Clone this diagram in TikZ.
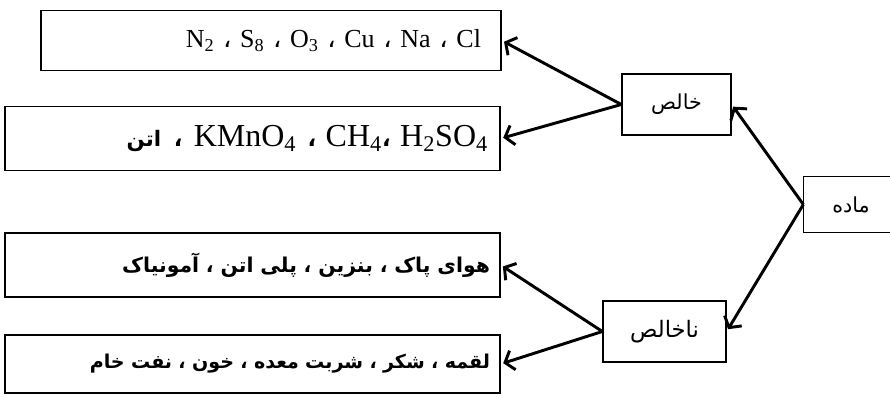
\documentclass[tikz,border=0pt]{standalone}
\usepackage{fontspec}
\setmainfont{Liberation Serif}
\newfontfamily\arabicfont[Script=Arabic]{DejaVu Sans}
\TeXXeTstate=1
\usetikzlibrary{arrows.meta}
\newcommand\acm{{\arabicfont ،}}
\newcommand\bacm{{\arabicfont\bfseries\fontsize{17}{18}\selectfont ،}}
\tikzset{
  tbox/.style={draw, line width=1pt, inner ysep=0pt, align=right},
  lbox/.style={draw, line width=1pt, inner sep=0pt, font=\arabicfont\fontsize{15.5}{18}\selectfont},
  conn/.style={line width=2.2pt, -{Straight Barb[length=6pt,width=15pt]}, shorten >=2pt}
}
\begin{document}
\begin{tikzpicture}[x=0.75pt,y=-0.75pt]
\fill[white] (0,0) rectangle (890,398);
\clip (0,0) rectangle (890,398);
% left boxes
\node[tbox, inner xsep=15pt, text width=315pt, minimum height=45pt, font=\fontsize{19.5}{22}\selectfont] (b1) at (271,40.5)
  {N\textsubscript{2} \acm{} S\textsubscript{8} \acm{} O\textsubscript{3} \acm{} Cu \acm{} Na \acm{} Cl};
\node[tbox, inner xsep=9pt, text width=353.25pt, minimum height=48pt, font=\fontsize{24}{26}\selectfont] (b2) at (252.5,138.5)
  {{\arabicfont\bfseries\fontsize{16}{18}\selectfont\beginR اتن\endR}\hspace{0.4em}\bacm\hspace{0.35em}KMnO\textsubscript{4}\hspace{0.35em}\bacm\hspace{0.3em}CH\textsubscript{4}\bacm\hspace{0.3em}H\textsubscript{2}SO\textsubscript{4}};
\node[tbox, inner xsep=7.5pt, text width=356.25pt, minimum height=48pt, font=\arabicfont\bfseries\fontsize{15.3}{18}\selectfont] (b3) at (252.5,265)
  {\beginR هوای پاک ، بنزین ، پلی اتن ، آمونیاک\endR};
\node[tbox, inner xsep=7.5pt, text width=356.25pt, minimum height=43.5pt, font=\arabicfont\bfseries\fontsize{14.3}{17}\selectfont] (b4) at (252.5,364)
  {\beginR لقمه ، شکر ، شربت معده ، خون ، نفت خام\endR};
% category boxes
\node[lbox, minimum width=81.75pt, minimum height=45.75pt] (pure) at (676.5,104.5) {\beginR خالص\endR};
\node[lbox, minimum width=92.25pt, minimum height=45.75pt, font=\arabicfont\fontsize{17}{20}\selectfont] (impure) at (664.5,331.5) {\beginR ناخالص\endR};
\node[lbox, draw=none, minimum width=82.5pt, minimum height=41.25pt] (matter) at (859,204.5) {\beginR ماده\endR\hspace*{12pt}};
\draw[line width=1pt] (matter.north east) -- (matter.north west) -- (matter.south west) -- (matter.south east);
% connectors
\draw[conn] (matter.west) -- (pure.east);
\draw[conn] (matter.west) -- (impure.east);
\draw[conn] (pure.west) -- (b1.east);
\draw[conn] (pure.west) -- (b2.east);
\draw[conn] (impure.west) -- (b3.east);
\draw[conn] (impure.west) -- (b4.east);
\end{tikzpicture}
\end{document}
